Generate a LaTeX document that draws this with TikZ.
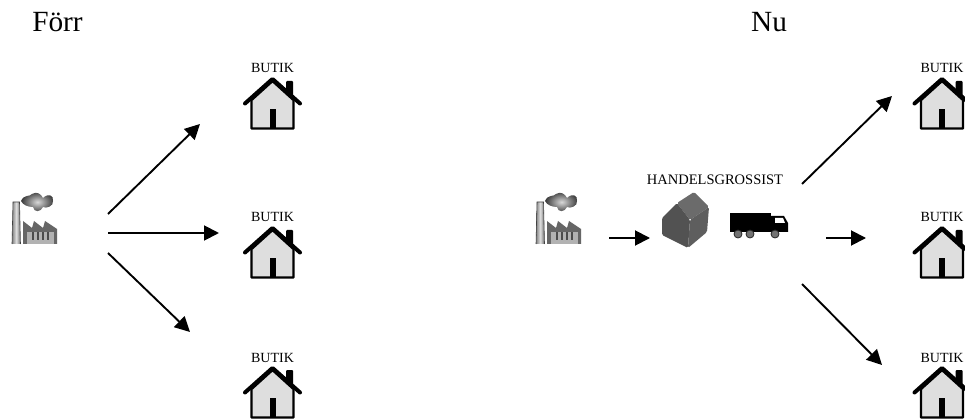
\documentclass[tikz,border=0pt]{standalone}
\usepackage{fontspec}
\setmainfont{Liberation Serif}
\usetikzlibrary{arrows.meta}
\tikzset{
  flow/.style={draw=black,line width=1.9pt,-{Triangle[length=15pt,width=15pt]}},
  heading/.style={inner sep=0pt,anchor=base,font=\fontsize{29.3}{32}\selectfont},
  small/.style={inner sep=0pt,font=\fontsize{14}{16}\selectfont},
  wh/.style={inner sep=0pt,font=\fontsize{14.5}{16}\selectfont},
  house/.pic={
    \fill[black,rounded corners=1pt] (13.5,24) -- (13.5,5) -- (20.5,5) -- (20.5,24) -- cycle;
    \path[fill=black!13,draw=black,line width=2.4pt,line join=round] (-21,24) -- (0,5) -- (21,24) -- (21,52.5) -- (-21,52.5) -- cycle;
    \draw[black,line width=4pt,line join=round,line cap=round] (-27.5,27.5) -- (0,3) -- (27.5,27.5);
    \fill[black] (-3,33) rectangle (3,52.5);
  },
  factory/.pic={
    \shade[left color=black!50,right color=black!60,middle color=black!12] (13,202) -- (19.5,202) -- (20.5,244) -- (12,244) -- cycle;
    \draw[black!75,line width=.6pt] (12,244) -- (13,202) -- (19.5,202) -- (20.5,244);
    \fill[black!60] (23,244) -- (23,221) -- (32,228) -- (34,221) -- (43,228) -- (45,221) -- (57,229) -- (57,244) -- cycle;
    \fill[black!30] (27,232) rectangle (54,244);
    \foreach \xx in {32,37,42,47} \fill[black!70] (\xx,232) rectangle +(1.6,8);
    \shade[inner color=black!15,outer color=black!78] (21,201) .. controls (24,194) and (30,197) .. (32,194) .. controls (37,191) and (41,194) .. (43,198) .. controls (48,193) and (54,195) .. (53,201) .. controls (54,206) and (46,209) .. (43,207) .. controls (41,212) and (34,213) .. (33,207) .. controls (28,207) and (23,205) .. (21,201) -- cycle;
  }
}
\begin{document}
\begin{tikzpicture}[x=1pt,y=-1pt]
\useasboundingbox (0,0) rectangle (965,419);
\clip (0,0) rectangle (965,419);
\fill[white] (0,0) rectangle (965,419);
\node[heading] (forr) at (57.5,32) {Förr};
\node[heading] (nu) at (769,32) {Nu};

\pic at (0,0) {factory};
\coordinate (la) at (108,214); \coordinate (laend) at (200,124);
\coordinate (lb) at (108,233); \coordinate (lbend) at (219,233);
\coordinate (lc) at (108,253); \coordinate (lcend) at (190,332);
\draw[flow] (la) -- (laend);
\draw[flow] (lb) -- (lbend);
\draw[flow] (lc) -- (lcend);

\node[small] (b1) at (272.5,68) {BUTIK};
\node[small] (b2) at (272.5,217) {BUTIK};
\node[small] (b3) at (272.5,358) {BUTIK};
\pic at (272.5,76) {house};
\pic at (272.5,225) {house};
\pic at (272.5,365) {house};

\pic at (524,0) {factory};
\coordinate (ma) at (609,238); \coordinate (maend) at (650,238);
\draw[flow] (ma) -- (maend);
\node[wh] (hg) at (715,180) {HANDELSGROSSIST};

% warehouse
\fill[black!58,rounded corners=1.5pt] (677,203) -- (694,192) -- (709,207) -- (690,220) -- cycle;
\fill[black!68,rounded corners=1.5pt] (662,218) -- (677,203) -- (690,220) -- (688,248) -- (662,235) -- cycle;
\fill[black!63,rounded corners=1.5pt] (690,220) -- (709,207) -- (707,232) -- (688,248) -- cycle;

% truck
\fill[black] (730,213) rectangle (771,230);
\fill[black] (771,216) -- (784,216) -- (788,223) -- (788,232) -- (771,232) -- cycle;
\fill[white] (775,218) -- (783,218) -- (785,223) -- (775,223) -- cycle;
\fill[black] (730,229) rectangle (788,232);
\foreach \wx in {738,750,775} {
  \fill[black!55,draw=black!85,line width=.8pt] (\wx,234) circle (4pt);
}

\coordinate (ra) at (802,184); \coordinate (raend) at (892,96);
\coordinate (rb) at (826,238); \coordinate (rbend) at (866,238);
\coordinate (rc) at (802,284); \coordinate (rcend) at (882,365);
\draw[flow] (ra) -- (raend);
\draw[flow] (rb) -- (rbend);
\draw[flow] (rc) -- (rcend);

\node[small] (b4) at (942,68) {BUTIK};
\node[small] (b5) at (942,217) {BUTIK};
\node[small] (b6) at (942,358) {BUTIK};
\pic at (942,76) {house};
\pic at (942,225) {house};
\pic at (942,365) {house};
\end{tikzpicture}
\end{document}
